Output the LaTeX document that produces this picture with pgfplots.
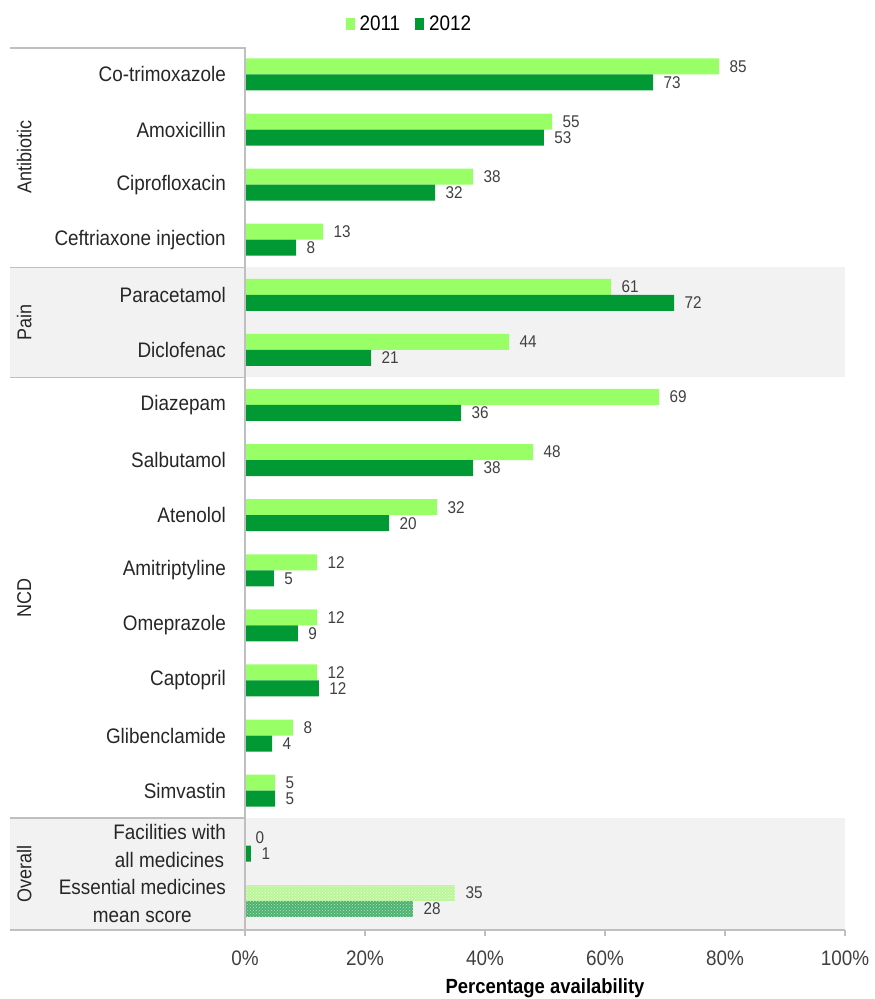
\documentclass[border=0pt]{standalone}
\usepackage{pgfplots}
\pgfplotsset{compat=1.18}
\usepackage{pgfplotstable}
\usetikzlibrary{patterns}
\usepackage{fontspec}
\setmainfont{Liberation Sans}[FakeStretch=0.9]
\definecolor{cA}{HTML}{99FF66}
\definecolor{cB}{HTML}{009933}
\definecolor{eA}{HTML}{B8F794}
\definecolor{eB}{HTML}{4DB370}
\definecolor{linegray}{HTML}{BFBFBF}
\definecolor{bggray}{HTML}{F2F2F2}
\definecolor{valgray}{HTML}{404040}
\definecolor{labgray}{HTML}{262626}
\pgfplotstableread{
y x lab
15 79 85
14 51.2 55
13 38 38
12 13 13
11 61 61
10 44 44
9 69 69
8 48 48
7 32 32
6 12 12
5 12 12
4 12 12
3 8 8
2 5 5
1 0 0
}\tA
\pgfplotstableread{
y x lab
0 35 35
}\tAE
\pgfplotstableread{
y x lab
15 68 73
14 49.8 53
13 31.7 32
12 8.5 8
11 71.5 72
10 21 21
9 36 36
8 38 38
7 24 20
6 4.8 5
5 8.8 9
4 12.3 12
3 4.5 4
2 5 5
1 1 1
}\tB
\pgfplotstableread{
y x lab
0 28 28
}\tBE
\begin{document}
\begin{tikzpicture}
\begin{axis}[
  set layers,
  scale only axis, width=600pt, height=882pt,
  xmin=0, xmax=100, ymin=-0.53, ymax=15.48,
  xbar, bar width=16pt,
  clip=false,
  axis line style={draw=none},
  xtick={0,20,...,100},
  xticklabel={\pgfmathprintnumber{\tick}\%},
  /pgf/number format/assume math mode=true,
  tick pos=left,
  tick align=outside,
  major tick length=6pt,
  xtick style={draw=linegray, line width=1.2pt},
  ytick style={draw=none},
  ytick={0,...,15},
  yticklabels={{Essential medicines\\mean score},{Facilities with\\all medicines},Simvastin,Glibenclamide,Captopril,Omeprazole,Amitriptyline,Atenolol,Salbutamol,Diazepam,Diclofenac,Paracetamol,Ceftriaxone injection,Ciprofloxacin,Amoxicillin,Co-trimoxazole},
  yticklabel style={align=center, anchor=east, inner sep=0pt, xshift=-13pt, font=\fontsize{21}{28}\selectfont, text=labgray},
  xticklabel style={font=\fontsize{21}{24}\selectfont, text=valgray, yshift=-11pt},
  xlabel={Percentage availability},
  xlabel style={at={(axis description cs:0.5,0)}, anchor=center, yshift=-58pt, font=\bfseries\fontsize{20.5}{24}\selectfont, text=black},
  nodes near coords,
  nodes near coords align={horizontal},
  point meta=explicit symbolic,
  every node near coord/.append style={anchor=west, font=\fontsize{17}{20}\selectfont, text=valgray, xshift=7pt},
  legend style={at={(0.274,1.027)}, anchor=center, draw=none, fill=none, legend columns=2, font=\fontsize{21}{24}\selectfont, /tikz/every even column/.append style={column sep=13pt}},
  legend image code/.code={\fill[#1] (0pt,-6pt) rectangle (9pt,6pt); \path (12pt,0pt);},
]
\begin{pgfonlayer}{axis background}
\fill[bggray] (axis cs:-39.17,9.5) rectangle (axis cs:100,11.5);
\fill[bggray] (axis cs:-39.17,-0.53) rectangle (axis cs:100,1.5);
\end{pgfonlayer}
\addplot[draw=none, fill=cA, bar shift=8pt] table[x=x, y=y, meta=lab] {\tA};
\addlegendentry{2011}
\addplot[draw=none, fill=cB, bar shift=-8pt] table[x=x, y=y, meta=lab] {\tB};
\addlegendentry{2012}
\addplot[draw=none, fill=eA, postaction={pattern=crosshatch dots, pattern color=white!85!eA}, bar shift=8pt, forget plot] table[x=x, y=y, meta=lab] {\tAE};
\addplot[draw=none, fill=eB, postaction={pattern=crosshatch dots, pattern color=white!60!eB}, bar shift=-8pt, forget plot] table[x=x, y=y, meta=lab] {\tBE};
\draw[linegray, line width=1.5pt] (axis cs:-39.17,15.48) -- (axis cs:0,15.48) -- (axis cs:0,-0.53);
\draw[linegray, line width=1.5pt] (axis cs:-39.17,11.5) -- (axis cs:0,11.5);
\draw[linegray, line width=1.5pt] (axis cs:-39.17,9.5) -- (axis cs:0,9.5);
\draw[linegray, line width=1.5pt] (axis cs:-39.17,1.5) -- (axis cs:0,1.5);
\draw[linegray, line width=1.5pt] (axis cs:-39.17,-0.53) -- (axis cs:100,-0.53);
\node[rotate=90, font=\fontsize{20}{24}\selectfont, text=labgray] at (axis cs:-36.8,13.5) {Antibiotic};
\node[rotate=90, font=\fontsize{20}{24}\selectfont, text=labgray] at (axis cs:-36.8,10.5) {Pain};
\node[rotate=90, font=\fontsize{20}{24}\selectfont, text=labgray] at (axis cs:-36.8,5.5) {NCD};
\node[rotate=90, font=\fontsize{20}{24}\selectfont, text=labgray] at (axis cs:-36.8,0.486) {Overall};
\end{axis}
\pgfresetboundingbox
\path[use as bounding box] (current axis.south west) ++(-245pt,-69pt) rectangle ++(875pt,999pt);
\end{tikzpicture}
\end{document}
